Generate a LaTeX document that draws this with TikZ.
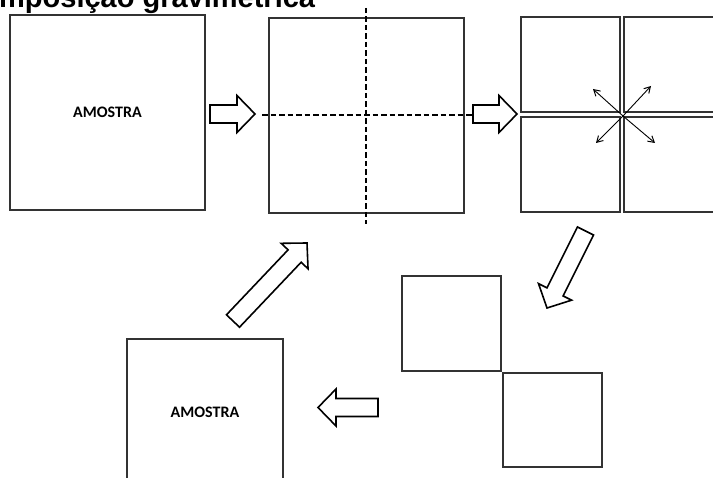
\documentclass[tikz,border=0pt]{standalone}
\usepackage{fontspec}
\setmainfont{Liberation Sans}
\newfontfamily\calib{Carlito}
\usetikzlibrary{calc,arrows.meta}
\tikzset{
  box/.style={draw=black!80, line width=1.2pt, rectangle, inner sep=0pt, outer sep=0pt, fill=white},
  lbl/.style={font=\calib\bfseries\fontsize{16}{19}\selectfont},
  blockarrow/.style={draw=black, line width=1.6pt, line join=miter, fill=white},
  cutline/.style={draw=black, line width=1.5pt, dash pattern=on 5.5pt off 3pt},
  radial/.style={draw=black, line width=0.9pt, -{Straight Barb[length=6pt,width=7pt,line width=1pt]}}
}
\newcommand\blockarrow[2]{%
  \coordinate (hb) at ($(#2)!18pt!(#1)$);
  \draw[blockarrow] ($(#1)!9pt!90:(#2)$) -- ($(hb)!9pt!90:(#2)$) -- ($(hb)!18.5pt!90:(#2)$) -- (#2)
    -- ($(hb)!18.5pt!-90:(#2)$) -- ($(hb)!9pt!-90:(#2)$) -- ($(#1)!9pt!-90:(#2)$) -- cycle;}
\begin{document}
\begin{tikzpicture}[x=1pt,y=-1pt]
\path[use as bounding box] (0,0) rectangle (713,478);
\clip (0,0) rectangle (713,478);
% title
\node[anchor=base west, inner sep=0pt, font=\bfseries\fontsize{29}{34}\selectfont] (title) at (-1,8) {mposição gravimétrica};
% sample
\node[box, minimum width=195pt, minimum height=195pt, lbl] (s1) at (107.5,112.5) {AMOSTRA};
% divided sample
\node[box, minimum width=195pt, minimum height=195pt] (s2) at (366.5,115.5) {};
\coordinate (vtop) at (366,8);
\coordinate (vbot) at (366,224);
\coordinate (hl) at (262,115);
\coordinate (hr) at (472,115);
\draw[cutline] (vtop) -- (vbot);
\draw[cutline] (hl) -- (hr);
% quarters
\node[box, minimum width=99pt, minimum height=95pt] (q1) at (570.5,64.5) {};
\node[box, minimum width=99pt, minimum height=95pt] (q2) at (673.5,64.5) {};
\node[box, minimum width=99pt, minimum height=95pt] (q3) at (570.5,164.5) {};
\node[box, minimum width=99pt, minimum height=95pt] (q4) at (673.5,164.5) {};
\coordinate (c) at (623,116);
\coordinate (r1) at (593,89);
\coordinate (r2) at (651,86);
\coordinate (r3) at (596,143);
\coordinate (r4) at (655,143);
\foreach \r in {r1,r2,r3,r4} \draw[radial] (c) -- (\r);
% selected quarters
\node[box, minimum width=99pt, minimum height=95pt] (b1) at (451.5,323.5) {};
\node[box, minimum width=99pt, minimum height=94pt] (b2) at (552.5,420) {};
% new sample
\node[box, minimum width=156pt, minimum height=146pt, lbl] (s3) at (205,412) {AMOSTRA};
% block arrows
\coordinate (a1t) at (210,114); \coordinate (a1h) at (255,114);
\coordinate (a2t) at (473,114); \coordinate (a2h) at (517,114);
\coordinate (a3t) at (585.5,231); \coordinate (a3h) at (547,308);
\coordinate (a4t) at (233,321); \coordinate (a4h) at (307,243);
\coordinate (a5t) at (378,407.5); \coordinate (a5h) at (318,407.5);
\blockarrow{a1t}{a1h}
\blockarrow{a2t}{a2h}
\blockarrow{a3t}{a3h}
\blockarrow{a4t}{a4h}
\blockarrow{a5t}{a5h}
\end{tikzpicture}
\end{document}
